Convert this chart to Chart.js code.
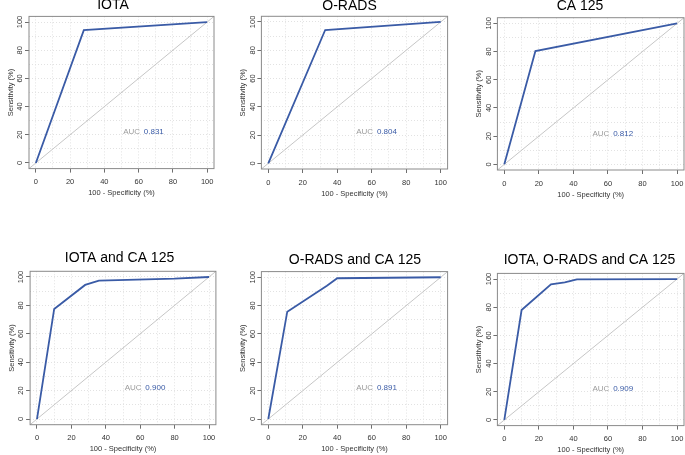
<!DOCTYPE html>
<html><head><meta charset="utf-8">
<script src="https://cdn.jsdelivr.net/npm/chart.js@4"></script>
<style>
html,body{margin:0;padding:0;width:685px;height:455px;overflow:hidden;background:#fff;position:relative}
canvas{position:absolute}
</style></head><body>
<script>
// ---- data ----
const titles = ['IOTA', 'O-RADS', 'CA 125', 'IOTA and CA 125', 'O-RADS and CA 125', 'IOTA, O-RADS and CA 125'];
const fprIOTA = [0, 28, 100];
const sensIOTA = [0, 94.3, 100];
const fprORADS = [0, 33, 100];
const sensORADS = [0, 94.3, 100];
const fprCA125 = [0, 18, 100];
const sensCA125 = [0, 80.3, 100];
const fprIOTACA = [0, 10, 28, 36, 80, 100];
const sensIOTACA = [0, 77.5, 94.4, 97.4, 98.8, 100];
const fprORADSCA = [0, 11, 34, 40, 100];
const sensORADSCA = [0, 75.7, 94.1, 99.3, 100];
const fprAll = [0, 10, 27, 35, 42, 100];
const sensAll = [0, 78, 96.2, 97.6, 99.8, 100];
const aucValues = ['0.831', '0.804', '0.812', '0.900', '0.891', '0.909'];
const diagX = [-4, 104];
const diagY = [-4, 104];
const tickValues = [0, 20, 40, 60, 80, 100];
const tickLabels = ['0', '20', '40', '60', '80', '100'];
const gridValues = [0, 10, 20, 30, 40, 50, 60, 70, 80, 90, 100];
const xTitle = '100 - Specificity (%)';
const yTitle = 'Sensitivity (%)';

const seriesX = [fprIOTA, fprORADS, fprCA125, fprIOTACA, fprORADSCA, fprAll];
const seriesY = [sensIOTA, sensORADS, sensCA125, sensIOTACA, sensORADSCA, sensAll];

// ---- layout (pixel geometry of each panel) ----
const panelGeom = [
  {boxL: 29,    boxR: 214,   boxT: 16.4,  boxB: 168.6, titleCx: 113,   titleCy: 5.5},
  {boxL: 261.4, boxR: 447.6, boxT: 16.3,  boxB: 169,   titleCx: 349.5, titleCy: 6},
  {boxL: 497.4, boxR: 684,   boxT: 17.7,  boxB: 170,   titleCx: 580,   titleCy: 6},
  {boxL: 30.1,  boxR: 215.9, boxT: 271.3, boxB: 424.7, titleCx: 119.5, titleCy: 258.3},
  {boxL: 261.4, boxR: 447.6, boxT: 271.6, boxB: 424.7, titleCx: 355,   titleCy: 260},
  {boxL: 497.4, boxR: 684,   boxT: 273.4, boxB: 425.6, titleCx: 589.5, titleCy: 260}
];

const FONT = "'Liberation Sans', Arial, Helvetica, sans-serif";
const BLUE = '#3a5ba6';
Chart.defaults.font.family = FONT;

function labelFor(v) {
  const k = tickValues.indexOf(v);
  return k >= 0 ? tickLabels[k] : '';
}

const boxPlugin = {
  id: 'plotBox',
  afterDatasetsDraw(chart) {
    const {ctx, chartArea: a} = chart;
    ctx.save();
    ctx.strokeStyle = '#8a8a8a';
    ctx.lineWidth = 1;
    ctx.strokeRect(a.left, a.top, a.right - a.left, a.bottom - a.top);
    ctx.restore();
  }
};

const aucPlugin = {
  id: 'auc',
  afterDatasetsDraw(chart, args, opts) {
    const {ctx, scales: {x, y}} = chart;
    ctx.save();
    ctx.font = '8px ' + FONT;
    ctx.textBaseline = 'middle';
    ctx.textAlign = 'left';
    const py = y.getPixelForValue(22);
    ctx.fillStyle = '#9c9c9c';
    ctx.fillText('AUC', x.getPixelForValue(51), py);
    ctx.fillStyle = BLUE;
    ctx.fillText(opts.value, x.getPixelForValue(63), py);
    ctx.restore();
  }
};

seriesX.forEach((xs, i) => {
  const g = panelGeom[i];
  const left = Math.round(g.boxL - 19 - 4.5);
  const top = Math.round(g.titleCy - 8.4);
  const width = Math.round(2 * (g.titleCx - left));
  const xAxisH = 29;
  const height = Math.ceil(g.boxB + xAxisH - top) + 1;
  const cv = document.createElement('canvas');
  cv.width = width; cv.height = height;
  cv.style.left = left + 'px'; cv.style.top = top + 'px';
  cv.style.width = width + 'px'; cv.style.height = height + 'px';
  document.body.appendChild(cv);
  const yW = g.boxL - left;
  const padR = left + width - g.boxR;
  const titlePadB = g.boxT - top - 16.8;
  const padBottom = height - (g.boxB - top) - xAxisH;

  const rocData = xs.map((v, k) => ({x: v, y: seriesY[i][k]}));
  const diagData = diagX.map((v, k) => ({x: v, y: diagY[k]}));

  const axisCommon = {
    type: 'linear', min: -4, max: 104,
    grid: {
      color: '#e2e2e2', lineWidth: 1, tickLength: 4, tickWidth: 1,
      tickColor: c => (c.tick && tickValues.includes(c.tick.value)) ? '#6e6e6e' : 'rgba(0,0,0,0)'
    },
    border: {display: false, dash: [1, 2]}
  };

  new Chart(cv, {
    type: 'line',
    data: {
      datasets: [
        {data: rocData, borderColor: BLUE, borderWidth: 1.8, pointRadius: 0, tension: 0, fill: false},
        {data: diagData, borderColor: '#c6c6c6', borderWidth: 1, pointRadius: 0, tension: 0, fill: false}
      ]
    },
    options: {
      responsive: false, animation: false, devicePixelRatio: 1,
      layout: {padding: {left: 0, right: 0, top: 0, bottom: padBottom}},
      plugins: {
        legend: {display: false},
        tooltip: {enabled: false},
        title: {
          display: true, text: titles[i], color: '#000',
          font: {family: FONT, size: 14, weight: 'normal', lineHeight: 1.2},
          padding: {top: 0, bottom: titlePadB}
        },
        auc: {value: aucValues[i]}
      },
      scales: {
        x: Object.assign({}, axisCommon, {
          afterBuildTicks: s => { s.ticks = gridValues.map(v => ({value: v})); },
          afterFit: s => { s.height = xAxisH; s.paddingLeft = 0; s.paddingRight = padR; },
          ticks: {autoSkip: false, minRotation: 0, maxRotation: 0, padding: 5, color: '#333',
                  font: {family: FONT, size: 7.5}, callback: v => labelFor(v)},
          title: {display: true, text: xTitle, color: '#333', font: {family: FONT, size: 7.5}, padding: {top: 0, bottom: 0}}
        }),
        y: Object.assign({}, axisCommon, {
          afterBuildTicks: s => { s.ticks = gridValues.map(v => ({value: v})); },
          afterFit: s => { s.width = yW; s.paddingTop = 0; s.paddingBottom = 0; },
          ticks: {autoSkip: false, minRotation: 90, maxRotation: 90, crossAlign: 'center', padding: -1.5,
                  color: '#333', font: {family: FONT, size: 7.5}, callback: v => labelFor(v)},
          title: {display: true, text: yTitle, color: '#333', font: {family: FONT, size: 7.5}, padding: {top: 0, bottom: 0}}
        })
      }
    },
    plugins: [boxPlugin, aucPlugin]
  });
});
</script>
</body></html>
